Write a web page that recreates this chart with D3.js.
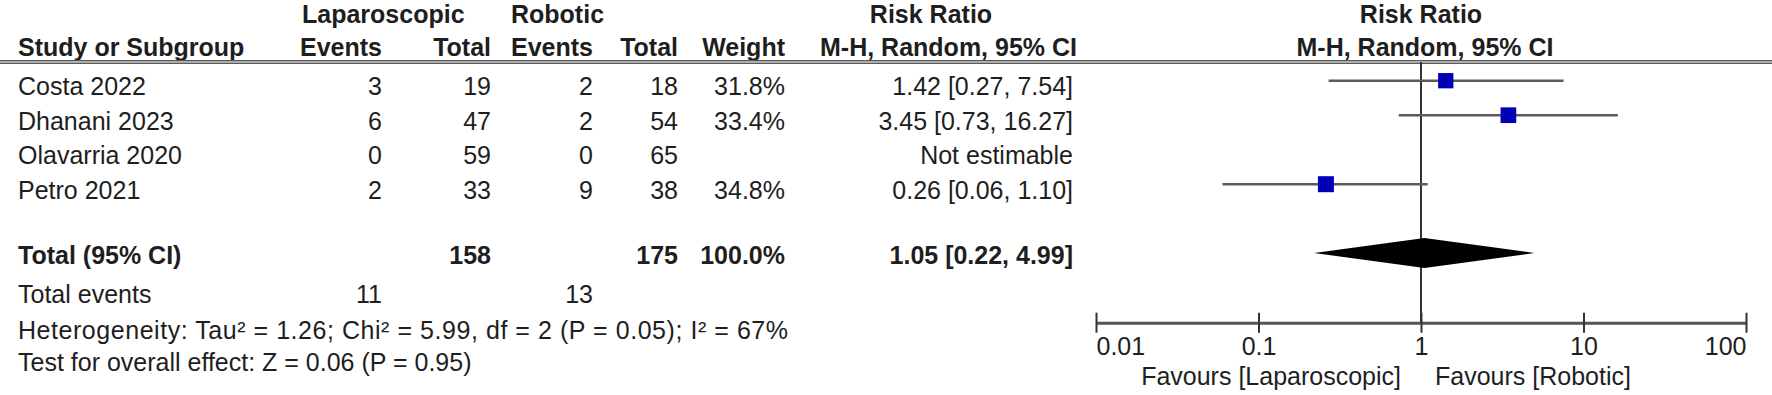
<!DOCTYPE html>
<html>
<head>
<meta charset="utf-8">
<script src="https://cdn.jsdelivr.net/npm/d3@7"></script>
<style>
  body { margin: 0; background: #fff; }
  text { font-family: "Liberation Sans", Arial, sans-serif; fill: #1e1e1e; }
</style>
</head>
<body>
<div id="forest"></div>
<script>
// data
var studies = ["Costa 2022", "Dhanani 2023", "Olavarria 2020", "Petro 2021"];
var lapEvents = [3, 6, 0, 2];
var lapTotal = [19, 47, 59, 33];
var robEvents = [2, 2, 0, 9];
var robTotal = [18, 54, 65, 38];
var weights = [31.8, 33.4, null, 34.8];
var rr = [1.42, 3.45, null, 0.26];
var rrLow = [0.27, 0.73, null, 0.06];
var rrHigh = [7.54, 16.27, null, 1.10];

var pooled = { rr: 1.05, low: 0.22, high: 4.99 };
var totals = { lap: 158, rob: 175, weight: 100.0, lapEvents: 11, robEvents: 13 };
var heteroText = "Heterogeneity: Tau\u00b2 = 1.26; Chi\u00b2 = 5.99, df = 2 (P = 0.05); I\u00b2 = 67%";
var effectText = "Test for overall effect: Z = 0.06 (P = 0.95)";

var tickValues = [0.01, 0.1, 1, 10, 100];
var tickLabels = ["0.01", "0.1", "1", "10", "100"];
var favoursLeft = "Favours [Laparoscopic]";
var favoursRight = "Favours [Robotic]";

const width = 1772, height = 395;
const fs = 25;

var svg = d3.select("#forest")
    .append("svg")
    .attr("width", width)
    .attr("height", height);

// column right edges (numbers are right aligned)
var col = { study: 18, lapEv: 382, lapTot: 491, robEv: 593, robTot: 678, weight: 785, ci: 1073 };

var f2 = d3.format(".2f");
var f1 = d3.format(".1f");

// rows
var y = d3.scalePoint()
    .domain(studies)
    .range([80.7, 184.2]);
var textOff = 14.5;

// x scale of the plot
var x = d3.scaleLog()
    .domain([0.01, 100])
    .range([1096, 1746]);

var axisY = 322.7;
var headLineY = 62;

function txt(xp, yp, s, anchor, bold) {
    return svg.append("text")
        .attr("x", xp)
        .attr("y", yp)
        .attr("text-anchor", anchor || "start")
        .style("font-size", fs + "px")
        .style("font-weight", bold ? "bold" : "normal")
        .text(s);
}

// header
txt(302, 23, "Laparoscopic", "start", true);
txt(511, 23, "Robotic", "start", true);
txt(931, 23, "Risk Ratio", "middle", true);
txt(x(1), 23, "Risk Ratio", "middle", true);

txt(col.study, 56, "Study or Subgroup", "start", true);
txt(col.lapEv, 56, "Events", "end", true);
txt(col.lapTot, 56, "Total", "end", true);
txt(col.robEv, 56, "Events", "end", true);
txt(col.robTot, 56, "Total", "end", true);
txt(col.weight, 56, "Weight", "end", true);
txt(1077, 56, "M-H, Random, 95% CI", "end", true);
txt(x(1) + 4, 56, "M-H, Random, 95% CI", "middle", true);

// double rule under the header
[headLineY - 1.3, headLineY + 1.3].forEach(function (ly) {
    svg.append("line")
        .attr("x1", 0).attr("x2", width)
        .attr("y1", ly).attr("y2", ly)
        .style("stroke", "#5a5a5a")
        .style("stroke-width", 1.6);
});

// study rows
studies.forEach(function (s, i) {
    var ty = y(s) + textOff;
    txt(col.study, ty, s);
    txt(col.lapEv, ty, lapEvents[i], "end");
    txt(col.lapTot, ty, lapTotal[i], "end");
    txt(col.robEv, ty, robEvents[i], "end");
    txt(col.robTot, ty, robTotal[i], "end");
    if (weights[i] != null) txt(col.weight, ty, f1(weights[i]) + "%", "end");
    if (rr[i] != null) {
        txt(col.ci, ty, f2(rr[i]) + " [" + f2(rrLow[i]) + ", " + f2(rrHigh[i]) + "]", "end");
    } else {
        txt(col.ci, ty, "Not estimable", "end");
    }
});

// line of no effect
svg.append("line")
    .attr("x1", x(1)).attr("x2", x(1))
    .attr("y1", headLineY).attr("y2", axisY)
    .style("stroke", "#333")
    .style("stroke-width", 2);

// confidence intervals and squares
var idx = d3.range(studies.length).filter(function (i) { return rr[i] != null; });

svg.selectAll(".ci")
    .data(idx)
    .enter().append("line")
    .attr("class", "ci")
    .attr("x1", function (i) { return x(rrLow[i]); })
    .attr("x2", function (i) { return x(rrHigh[i]); })
    .attr("y1", function (i) { return y(studies[i]); })
    .attr("y2", function (i) { return y(studies[i]); })
    .style("stroke", "#5c5c5c")
    .style("stroke-width", 2.6);

var side = d3.scaleSqrt().domain([0, 34.8]).range([0, 16]);

svg.selectAll(".sq")
    .data(idx)
    .enter().append("rect")
    .attr("class", "sq")
    .attr("x", function (i) { return x(rr[i]) - side(weights[i]) / 2; })
    .attr("y", function (i) { return y(studies[i]) - side(weights[i]) / 2; })
    .attr("width", function (i) { return side(weights[i]); })
    .attr("height", function (i) { return side(weights[i]); })
    .style("fill", "#0000b4");

// total row
var totY = 253;
txt(col.study, 264, "Total (95% CI)", "start", true);
txt(col.lapTot, 264, totals.lap, "end", true);
txt(col.robTot, 264, totals.rob, "end", true);
txt(col.weight, 264, f1(totals.weight) + "%", "end", true);
txt(col.ci, 264, f2(pooled.rr) + " [" + f2(pooled.low) + ", " + f2(pooled.high) + "]", "end", true);

svg.append("path")
    .attr("d", d3.line()([
        [x(pooled.low), totY],
        [x(pooled.rr), totY - 15],
        [x(pooled.high), totY],
        [x(pooled.rr), totY + 15]
    ]) + "Z")
    .style("fill", "#000");

txt(col.study, 303, "Total events");
txt(col.lapEv, 303, totals.lapEvents, "end");
txt(col.robEv, 303, totals.robEvents, "end");

// the heterogeneity line runs a bit wider in the original, spread it evenly
txt(col.study, 339, heteroText)
    .attr("textLength", 770)
    .attr("lengthAdjust", "spacing");
txt(col.study, 371, effectText);

// axis
var axis = svg.append("g")
    .attr("transform", "translate(0," + axisY + ")")
    .call(d3.axisBottom(x)
        .tickValues(tickValues)
        .tickFormat(function (d, i) { return tickLabels[i]; })
        .tickSizeOuter(0));

axis.select(".domain")
    .style("stroke", "#555")
    .style("stroke-width", 3);
axis.selectAll(".tick line")
    .attr("y1", -10)
    .attr("y2", 10)
    .style("stroke", "#333")
    .style("stroke-width", 2);
axis.selectAll(".tick text")
    .attr("y", 32)
    .attr("dy", 0)
    .style("font-size", fs + "px")
    .style("font-family", "'Liberation Sans', Arial, sans-serif")
    .style("fill", "#1e1e1e")
    .attr("text-anchor", function (d, i) {
        return i === 0 ? "start" : (i === tickValues.length - 1 ? "end" : "middle");
    });

txt(x(1) - 20, 385, favoursLeft, "end");
txt(x(1) + 14, 385, favoursRight, "start");
</script>
</body>
</html>
